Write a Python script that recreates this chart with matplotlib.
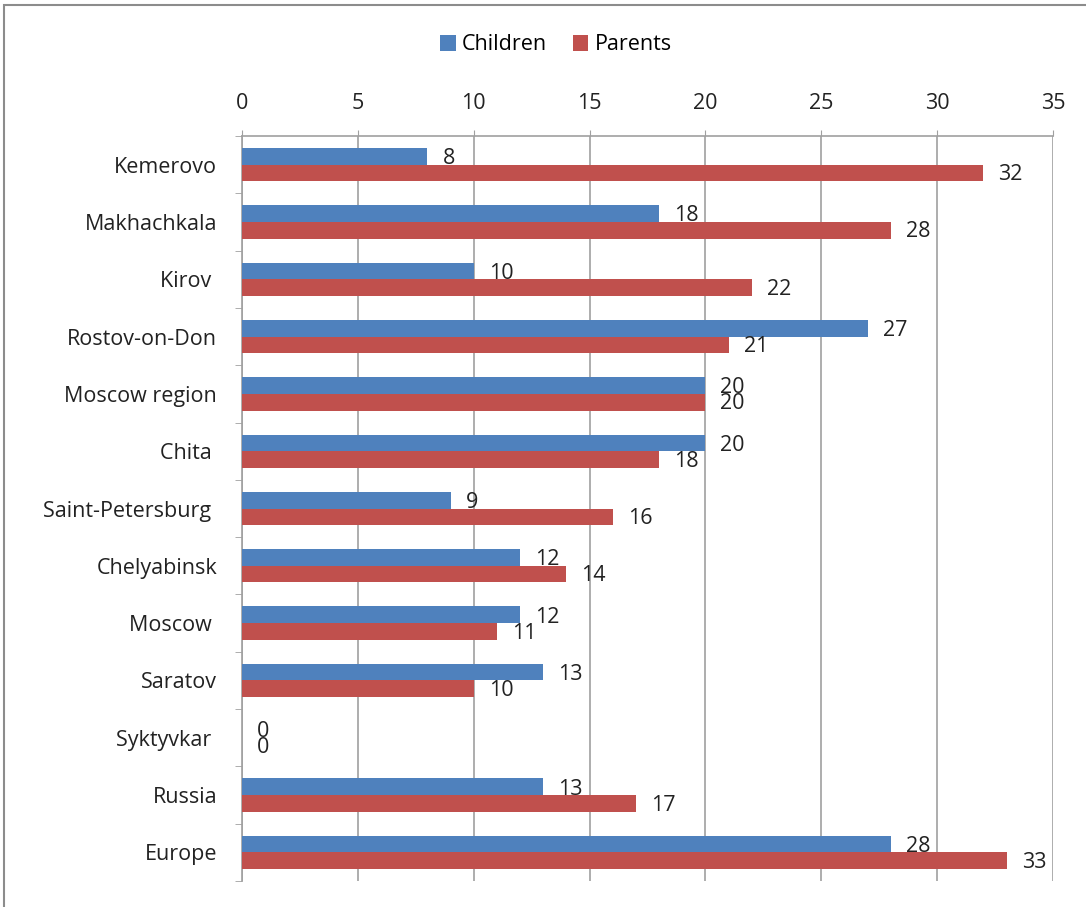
import matplotlib
matplotlib.use('Agg')
import matplotlib.pyplot as plt
import numpy as np

cities = ['Kemerovo', 'Makhachkala', 'Kirov ', 'Rostov-on-Don', 'Moscow region',
          'Chita ', 'Saint-Petersburg ', 'Chelyabinsk', 'Moscow ', 'Saratov',
          'Syktyvkar ', 'Russia', 'Europe']
children = [8, 18, 10, 27, 20, 20, 9, 12, 12, 13, 0, 13, 28]
parents = [32, 28, 22, 21, 20, 18, 16, 14, 11, 10, 0, 17, 33]

blue = '#4F81BD'
red = '#C0504D'
grid_c = '#A0A0A0'
fs = 15.5

plt.rcParams['font.family'] = ['Open Sans', 'DejaVu Sans']

W, H = 1086, 907
fig = plt.figure(figsize=(W / 100, H / 100), dpi=100)
# axes in pixel coords: left 242, right 1053, top 136, bottom 881
ax = fig.add_axes([242 / W, 1 - 881 / H, (1053 - 242) / W, (881 - 136) / H])

# outer chart frame
fig.patches.append(plt.Rectangle((4 / W, -0.1), 1.2, 1 - 5 / H + 0.1,
                                 transform=fig.transFigure, fill=False,
                                 edgecolor='#8C8C8C', linewidth=1.5))

y = np.arange(len(cities))
h = 0.29
ax.barh(y - h / 2, children, height=h, color=blue, linewidth=0,
        label='Children', zorder=3)
ax.barh(y + h / 2, parents, height=h, color=red, linewidth=0,
        label='Parents', zorder=3)

for i in y:
    ax.text(children[i] + 0.65, i - h / 2 + 0.04, str(children[i]), va='center',
            ha='left', fontsize=fs, color='#222222', zorder=4)
    ax.text(parents[i] + 0.65, i + h / 2 + 0.03, str(parents[i]), va='center',
            ha='left', fontsize=fs, color='#222222', zorder=4)

ax.set_xlim(0, 35)
ax.set_ylim(len(cities) - 0.5, -0.5)
ax.set_xticks(np.arange(0, 36, 5))
ax.xaxis.tick_top()
ax.tick_params(axis='x', direction='out', length=4, color=grid_c, labelsize=fs,
               pad=12, labelcolor='#222222')
ax.set_yticks(y)
ax.set_yticklabels(cities)
ax.set_yticks(np.arange(-0.5, len(cities), 1), minor=True)
ax.tick_params(axis='y', which='major', length=0, pad=18, labelsize=fs,
               labelcolor='#222222')
ax.tick_params(axis='y', which='minor', length=5, color=grid_c, direction='out')
ax.grid(axis='x', color=grid_c, linewidth=1.2, zorder=0)

for s in ['right', 'bottom']:
    ax.spines[s].set_visible(False)
for s in ['left', 'top']:
    ax.spines[s].set_color(grid_c)
    ax.spines[s].set_linewidth(1.2)

fig.legend(loc='center', bbox_to_anchor=(556 / W, 1 - 45 / H), ncol=2,
           frameon=False, fontsize=fs, handlelength=0.7, handleheight=0.7,
           handletextpad=0.3, columnspacing=1.2)

fig.savefig('out.png', dpi=100)
